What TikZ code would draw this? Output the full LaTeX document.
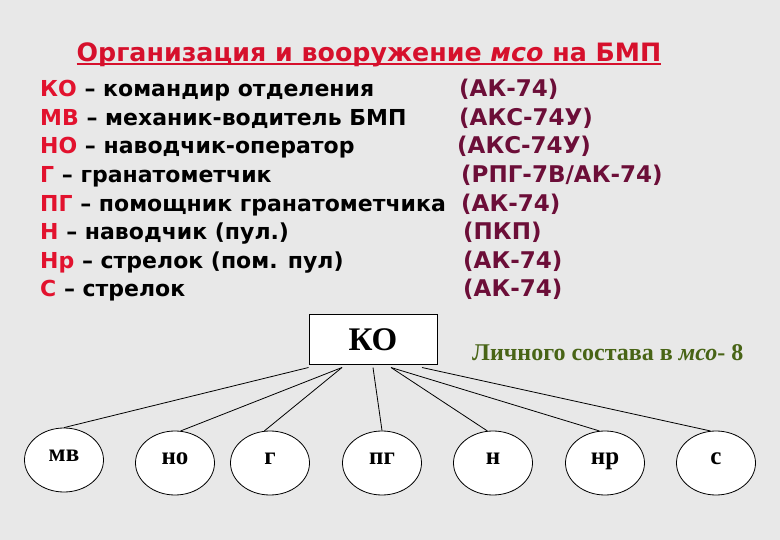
\documentclass[tikz,border=0pt]{standalone}
\usepackage{fontspec}
\setmainfont{DejaVu Sans}
\newfontfamily\timesf{Liberation Serif}
\usetikzlibrary{shapes.geometric}
\definecolor{bggray}{RGB}{232,232,232}
\definecolor{titlered}{RGB}{214,16,44}
\definecolor{abbrred}{RGB}{226,18,46}
\definecolor{armmaroon}{RGB}{108,14,56}
\definecolor{totgreen}{RGB}{72,100,22}
\newcommand{\thickul}[1]{\setbox0\hbox{#1}\rlap{\rule[-3.5pt]{\wd0}{2.2pt}}\box0}
\tikzstyle{rowtext} = [anchor=base west, inner sep=0pt, font=\bfseries\fontsize{22}{22}\selectfont]
\tikzstyle{armtext} = [rowtext, text=armmaroon, font=\bfseries\fontsize{23}{23}\selectfont]
\tikzstyle{chief} = [rectangle, draw=black, fill=white, line width=1pt, minimum width=128pt, minimum height=50pt, font=\timesf\bfseries\fontsize{33}{33}\selectfont]
\tikzstyle{member} = [ellipse, draw=black, fill=white, line width=0.8pt, minimum width=79pt, minimum height=64pt, inner sep=0pt, text height=0.47em, text depth=0.2em, font=\timesf\bfseries\fontsize{25}{25}\selectfont]
\tikzstyle{link} = [line width=0.8pt]

\begin{document}
\begin{tikzpicture}[x=1pt, y=-1pt]
\fill [bggray] (0,0) rectangle (780,540);
\useasboundingbox (0,0) rectangle (780,540);

\node (title) [anchor=base, inner sep=0pt, text=titlered, font=\bfseries\fontsize{25.3}{25.3}\selectfont] at (369,62) {\thickul{Организация и вооружение \textit{мсо} на БМП}};

\node (ko-row) [rowtext] at (40,97) {{\color{abbrred}КО} – командир отделения};
\node (mv-row) [rowtext] at (40,126) {{\color{abbrred}МВ} – механик-водитель БМП};
\node (no-row) [rowtext] at (40,154) {{\color{abbrred}НО} – наводчик-оператор};
\node (g-row) [rowtext] at (40,183) {{\color{abbrred}Г} – гранатометчик};
\node (pg-row) [rowtext] at (40,212) {{\color{abbrred}ПГ} – помощник гранатометчика};
\node (n-row) [rowtext] at (40,240) {{\color{abbrred}Н} – наводчик (пул.)};
\node (nr-row) [rowtext] at (40,269) {{\color{abbrred}Нр} – стрелок (пом. пул)};
\node (s-row) [rowtext] at (40,297) {{\color{abbrred}С} – стрелок};

\node (ko-arm) [armtext] at (459,97) {(АК-74)};
\node (mv-arm) [armtext] at (459,126) {(АКС-74У)};
\node (no-arm) [armtext] at (457,154) {(АКС-74У)};
\node (g-arm) [armtext] at (461,183) {(РПГ-7В/АК-74)};
\node (pg-arm) [armtext] at (461,212) {(АК-74)};
\node (n-arm) [armtext] at (463,240) {(ПКП)};
\node (nr-arm) [armtext] at (463,269) {(АК-74)};
\node (s-arm) [armtext] at (463,297) {(АК-74)};

\node (KO) [chief] at (373,340) {КО};
\node (total) [anchor=base west, inner sep=0pt, text=totgreen, font=\timesf\bfseries\fontsize{24}{24}\selectfont] at (472,360) {Личного состава в \textit{мсо}- 8};

\node (mv) [member] at (64,460) {мв};
\node (no) [member] at (175,463) {но};
\node (g) [member] at (270,463) {г};
\node (pg) [member] at (382,463) {пг};
\node (n) [member] at (493,463) {н};
\node (nr) [member] at (605,463) {нр};
\node (s) [member] at (716,463) {с};

\draw [link] ([yshift=-2pt]KO.south west) -- (mv.north);
\draw [link] ([xshift=-31pt, yshift=-2pt]KO.south) -- (no.80);
\draw [link] ([xshift=-31pt, yshift=-2pt]KO.south) -- (g.100);
\draw [link] ([yshift=-2pt]KO.south) -- (pg.north);
\draw [link] ([xshift=18pt, yshift=-2pt]KO.south) -- (n.100);
\draw [link] ([xshift=18pt, yshift=-2pt]KO.south) -- (nr.100);
\draw [link] ([xshift=49pt, yshift=-2pt]KO.south) -- (s.100);
\end{tikzpicture}
\end{document}
